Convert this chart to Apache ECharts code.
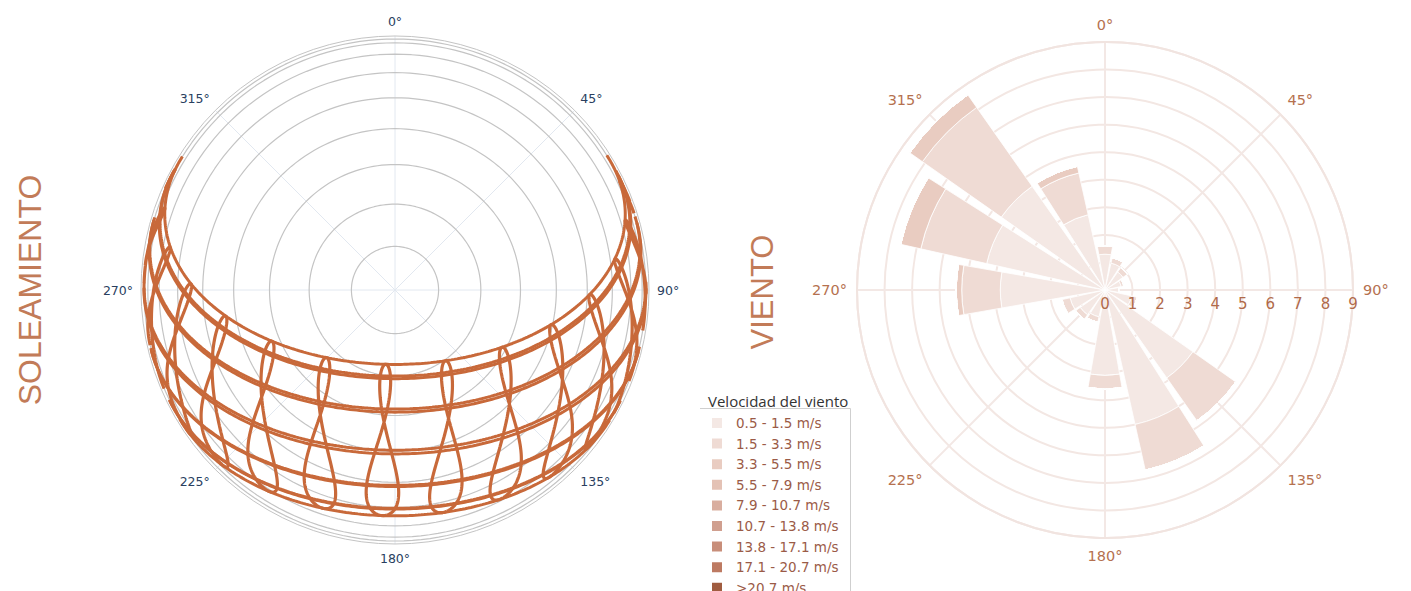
<!DOCTYPE html>
<html><head><meta charset="utf-8">
<script src="https://cdn.jsdelivr.net/npm/echarts@6/dist/echarts.min.js"></script>
<style>html,body{margin:0;padding:0;background:#fff}#c{width:1411px;height:591px}</style>
</head><body><div id="c"></div>
<script>
// ---------------- Sun path ----------------
const LATITUDE = 40.7;          // degrees north (noon altitudes ~73° in June, ~26° in December)
const LONGITUDE = 2.7;          // degrees east (hour analemmas sit slightly west of the meridian)
const UTC_OFFSET = 0;           // hours
const PATH_DAYS = [21, 52, 80, 111, 141, 172, 202, 233, 264, 294, 325, 355]; // 21st of each month
const HOURS = [0,1,2,3,4,5,6,7,8,9,10,11,12,13,14,15,16,17,18,19,20,21,22,23];
const ALTITUDE_RINGS = [0, 10, 20, 30, 40, 50, 60, 70, 80];

// ---------------- Wind rose ----------------
const DIRECTIONS = ['N','NNE','NE','ENE','E','ESE','SE','SSE','S','SSO','SO','OSO','O','ONO','NO','NNO'];
const SPEED_BINS = ['0.5 - 1.5 m/s','1.5 - 3.3 m/s','3.3 - 5.5 m/s','5.5 - 7.9 m/s','7.9 - 10.7 m/s','10.7 - 13.8 m/s','13.8 - 17.1 m/s','17.1 - 20.7 m/s','>20.7 m/s'];
const BIN_COLORS = ['#f4e8e4','#efdbd4','#e9ccc1','#e4c2b5','#d9ae9f','#d09f8f','#c88e7a','#bd7a62','#a05c40'];
const WIND_B1 = [1.3, 1.0, 0.8, 0.6, 0.5, 1.0, 3.9, 5.0, 3.1, 1.0, 1.1, 1.3, 3.8, 4.4, 4.6, 2.8];
const WIND_B2 = [0.3, 0.2, 0.2, 0.1, 0.0, 0.2, 1.9, 1.7, 0.5, 0.2, 0.2, 0.3, 1.4, 2.45, 3.5, 1.55];
const WIND_B3 = [0.0, 0.0, 0.0, 0.0, 0.0, 0.0, 0.0, 0.0, 0.0, 0.0, 0.0, 0.0, 0.2, 0.75, 0.56, 0.25];
const WIND_B4 = [0,0,0,0,0,0,0,0,0,0,0,0,0,0,0,0];
const WIND_B5 = [0,0,0,0,0,0,0,0,0,0,0,0,0,0,0,0];
const WIND_B6 = [0,0,0,0,0,0,0,0,0,0,0,0,0,0,0,0];
const WIND_B7 = [0,0,0,0,0,0,0,0,0,0,0,0,0,0,0,0];
const WIND_B8 = [0,0,0,0,0,0,0,0,0,0,0,0,0,0,0,0];
const WIND_B9 = [0,0,0,0,0,0,0,0,0,0,0,0,0,0,0,0];
const WIND_BINS = [WIND_B1, WIND_B2, WIND_B3, WIND_B4, WIND_B5, WIND_B6, WIND_B7, WIND_B8, WIND_B9];
const WIND_RADIUS_MAX = 9;

// ---------------- solar position (NOAA approximation) ----------------
const D2R = Math.PI / 180;
function sunPos(day, minutes) {
  const g = 2 * Math.PI / 365 * (day - 1 + (minutes / 60 - 12) / 24);
  const eot = 229.18 * (0.000075 + 0.001868 * Math.cos(g) - 0.032077 * Math.sin(g) - 0.014615 * Math.cos(2 * g) - 0.040849 * Math.sin(2 * g));
  const dec = 0.006918 - 0.399912 * Math.cos(g) + 0.070257 * Math.sin(g) - 0.006758 * Math.cos(2 * g) + 0.000907 * Math.sin(2 * g) - 0.002697 * Math.cos(3 * g) + 0.00148 * Math.sin(3 * g);
  const tst = minutes + eot + 4 * LONGITUDE - 60 * UTC_OFFSET;
  const ha = (tst / 4 - 180) * D2R;
  const lat = LATITUDE * D2R;
  const cz = Math.sin(lat) * Math.sin(dec) + Math.cos(lat) * Math.cos(dec) * Math.cos(ha);
  const alt = Math.asin(Math.max(-1, Math.min(1, cz))) / D2R;
  let az = Math.atan2(Math.sin(ha), Math.cos(ha) * Math.sin(lat) - Math.tan(dec) * Math.cos(lat)) / D2R + 180;
  az = (az + 360) % 360;
  return { alt, az };
}
function proj(p) { return [p.alt <= 0 ? 1 : Math.cos(p.alt * D2R), p.az]; }

const SUN_COLOR = '#c8693a';
const series = [];
ALTITUDE_RINGS.forEach(a => {
  const pts = [];
  for (let t = 0; t <= 360; t += 2) pts.push([Math.cos(a * D2R), t]);
  series.push({ type: 'line', coordinateSystem: 'polar', polarIndex: 0, data: pts, symbol: 'none', silent: true,
    lineStyle: { color: '#c4c4c4', width: 1.2 }, z: 1 });
});
PATH_DAYS.forEach(d => {
  const pts = [];
  for (let m = 0; m <= 1440; m += 3) {
    const p = sunPos(d, m);
    if (p.alt > -0.8) pts.push(proj(p)); else if (pts.length && pts[pts.length - 1][0] !== '-') pts.push(['-', '-']);
  }
  series.push({ type: 'line', coordinateSystem: 'polar', polarIndex: 0, data: pts, symbol: 'none', silent: true,
    lineStyle: { color: SUN_COLOR, width: 3 }, z: 3 });
});
HOURS.forEach(h => {
  const pts = [];
  for (let d = 1; d <= 366; d++) {
    const p = sunPos(d > 365 ? 1 : d, h * 60);
    if (p.alt > 0) pts.push(proj(p)); else pts.push(['-', '-']);
  }
  series.push({ type: 'line', coordinateSystem: 'polar', polarIndex: 0, data: pts, symbol: 'none', silent: true,
    connectNulls: false, lineStyle: { color: SUN_COLOR, width: 3.2 }, z: 3 });
});

SPEED_BINS.forEach((name, i) => {
  series.push({ type: 'bar', name, coordinateSystem: 'polar', polarIndex: 2, stack: 'wind',
    data: WIND_BINS[i], barCategoryGap: '12%', silent: true,
    itemStyle: { color: BIN_COLORS[i], borderColor: '#ffffff', borderWidth: 0.8 }, z: 2 });
});

const WIND_CENTER = [1105, 290], WIND_R = 248;
const chart = echarts.init(document.getElementById('c'), null, { renderer: 'svg' });
chart.setOption({
  animation: false,
  textStyle: { fontFamily: 'DejaVu Sans' },
  polar: [
    { center: [395, 290], radius: 254 },
    { center: WIND_CENTER, radius: WIND_R },
    { center: WIND_CENTER, radius: WIND_R },
    { center: WIND_CENTER, radius: WIND_R }
  ],
  angleAxis: [
    { polarIndex: 0, type: 'value', min: 0, max: 360, interval: 45, startAngle: 90, clockwise: true,
      axisLine: { lineStyle: { color: '#c4c4c4', width: 1 } }, axisTick: { show: false },
      axisLabel: { color: '#2a3f5f', fontSize: 12.5, margin: 8, formatter: v => v === 360 ? '' : v + '°' },
      splitLine: { show: true, lineStyle: { color: '#e2e8f0', width: 1 } } },
    // wind grid: starts at east so the radial scale lies along 90°
    { polarIndex: 1, type: 'value', min: 90, max: 450, interval: 45, startAngle: 0, clockwise: true,
      axisLine: { lineStyle: { color: '#f1e4e0', width: 2 } }, axisTick: { show: false },
      axisLabel: { color: '#b5714f', fontSize: 14.5, margin: 10, formatter: v => v === 450 ? '' : (v % 360) + '°' },
      splitLine: { show: true, lineStyle: { color: '#f3e8e5', width: 2 } }, z: 0 },
    // wind bars
    { polarIndex: 2, type: 'category', data: DIRECTIONS, startAngle: 90 + 360 / DIRECTIONS.length / 2, clockwise: true,
      show: false },
    // radial labels
    { polarIndex: 3, type: 'value', min: 0, max: 360, startAngle: 0, show: false }
  ],
  radiusAxis: [
    { polarIndex: 0, type: 'value', min: 0, max: 1.012, axisLine: { show: false }, axisTick: { show: false },
      axisLabel: { show: false }, splitLine: { show: false } },
    { polarIndex: 1, type: 'value', min: 0, max: WIND_RADIUS_MAX, interval: 1, axisLine: { show: false }, axisTick: { show: false },
      axisLabel: { show: false }, splitLine: { show: true, lineStyle: { color: '#f3e7e3', width: 2 } }, z: 0 },
    { polarIndex: 2, type: 'value', min: 0, max: WIND_RADIUS_MAX, show: false },
    { polarIndex: 3, type: 'value', min: 0, max: WIND_RADIUS_MAX, interval: 1, axisLine: { show: false }, axisTick: { show: false },
      splitLine: { show: false }, z: 10,
      axisLabel: { color: '#b06a4a', fontSize: 15, margin: -6, verticalAlign: 'top', align: 'center' } }
  ],
  title: { text: 'Velocidad del viento', left: 703, top: 388,
    textStyle: { fontSize: 15, fontWeight: 'normal', color: '#333333', fontFamily: 'Open Sans' } },
  legend: { orient: 'vertical', left: 710, top: 416, height: 220, itemWidth: 12, itemHeight: 12, itemGap: 6.6, padding: 0,
    icon: 'rect', selectedMode: false, data: SPEED_BINS,
    textStyle: { color: '#9b5b47', fontSize: 13.5, fontFamily: 'DejaVu Sans', padding: [0, 0, 0, 8] } },
  graphic: [
    { type: 'text', x: 30, y: 290, rotation: Math.PI / 2,
      style: { text: 'SOLEAMIENTO', fill: '#c27b58', font: '32px "Liberation Sans"', textAlign: 'center', textVerticalAlign: 'middle' } },
    { type: 'text', x: 762, y: 292, rotation: Math.PI / 2,
      style: { text: 'VIENTO', fill: '#c27b58', font: '31px "Liberation Sans"', textAlign: 'center', textVerticalAlign: 'middle' } },
    { type: 'polyline', shape: { points: [[700, 408.5], [850.5, 408.5], [850.5, 591]] }, style: { stroke: '#cfcfcf', fill: null, lineWidth: 1 } }
  ],
  series
});
</script></body></html>
